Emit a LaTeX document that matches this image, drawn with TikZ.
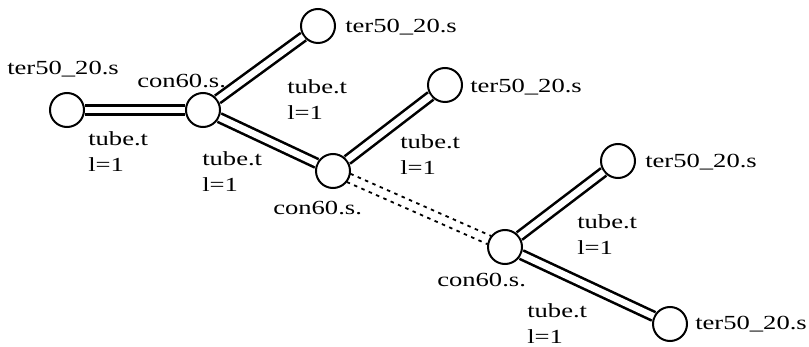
\documentclass[tikz,border=0pt]{standalone}
\usepackage{fontspec}
\setmainfont{Liberation Serif}
\usetikzlibrary{calc}
\begin{document}
\begin{tikzpicture}[x=1pt,y=-1pt,
  ball/.style={circle,draw,line width=2pt,minimum size=34pt,inner sep=0pt,fill=white},
  tubeline/.style={draw,double=white,line width=2.6pt,double distance=6.5pt},
  dotline/.style={line width=1.8pt,dash pattern=on 3.5pt off 4.5pt},
  lbl/.style={inner sep=0pt,font=\fontsize{20}{26}\selectfont,xscale=1.33,transform shape},
  lbl2/.style={lbl,align=left,anchor=north west}]
\useasboundingbox (0,0) rectangle (809,347);
% balls
\node[ball] (T1) at (67,110) {};
\node[ball] (C1) at (203,110) {};
\node[ball] (T2) at (318,26) {};
\node[ball] (C2) at (333,171) {};
\node[ball] (T3) at (445,85) {};
\node[ball] (C3) at (505,247) {};
\node[ball] (T4) at (618,161) {};
\node[ball] (T5) at (670,324) {};
% tubes
\draw[tubeline] (T1) -- (C1);
\draw[tubeline] (C1) -- (T2);
\draw[tubeline] (C1) -- (C2);
\draw[tubeline] (C2) -- (T3);
\draw[tubeline] (C3) -- (T4);
\draw[tubeline] (C3) -- (T5);
% dotted link
\coordinate (D1a) at ($(C2)!4.5pt!90:(C3)$);
\coordinate (D1b) at ($(C3)!4.5pt!-90:(C2)$);
\coordinate (D2a) at ($(C2)!4.5pt!-90:(C3)$);
\coordinate (D2b) at ($(C3)!4.5pt!90:(C2)$);
\draw[dotline,shorten <=17pt,shorten >=17pt] (D1a) -- (D1b);
\draw[dotline,shorten <=17pt,shorten >=17pt] (D2a) -- (D2b);
% labels
\node[lbl,anchor=base west] (L1) at (7,75) {ter50\_20.s};
\node[lbl,anchor=base west] (L2) at (137,88) {con60.s.};
\node[lbl,anchor=base west] (L3) at (345,33) {ter50\_20.s};
\node[lbl,anchor=base west] (L4) at (470,93) {ter50\_20.s};
\node[lbl,anchor=base west] (L5) at (273,215) {con60.s.};
\node[lbl,anchor=base west] (L6) at (645,168) {ter50\_20.s};
\node[lbl,anchor=base west] (L7) at (437,287) {con60.s.};
\node[lbl,anchor=base west] (L8) at (695,330) {ter50\_20.s};
\node[lbl2] (P1) at (88,131) {tube.t\\l=1};
\node[lbl2] (P2) at (202,151) {tube.t\\l=1};
\node[lbl2] (P3) at (287,79) {tube.t\\l=1};
\node[lbl2] (P4) at (400,134) {tube.t\\l=1};
\node[lbl2] (P5) at (577,214) {tube.t\\l=1};
\node[lbl2] (P6) at (527,303) {tube.t\\l=1};
\end{tikzpicture}
\end{document}
